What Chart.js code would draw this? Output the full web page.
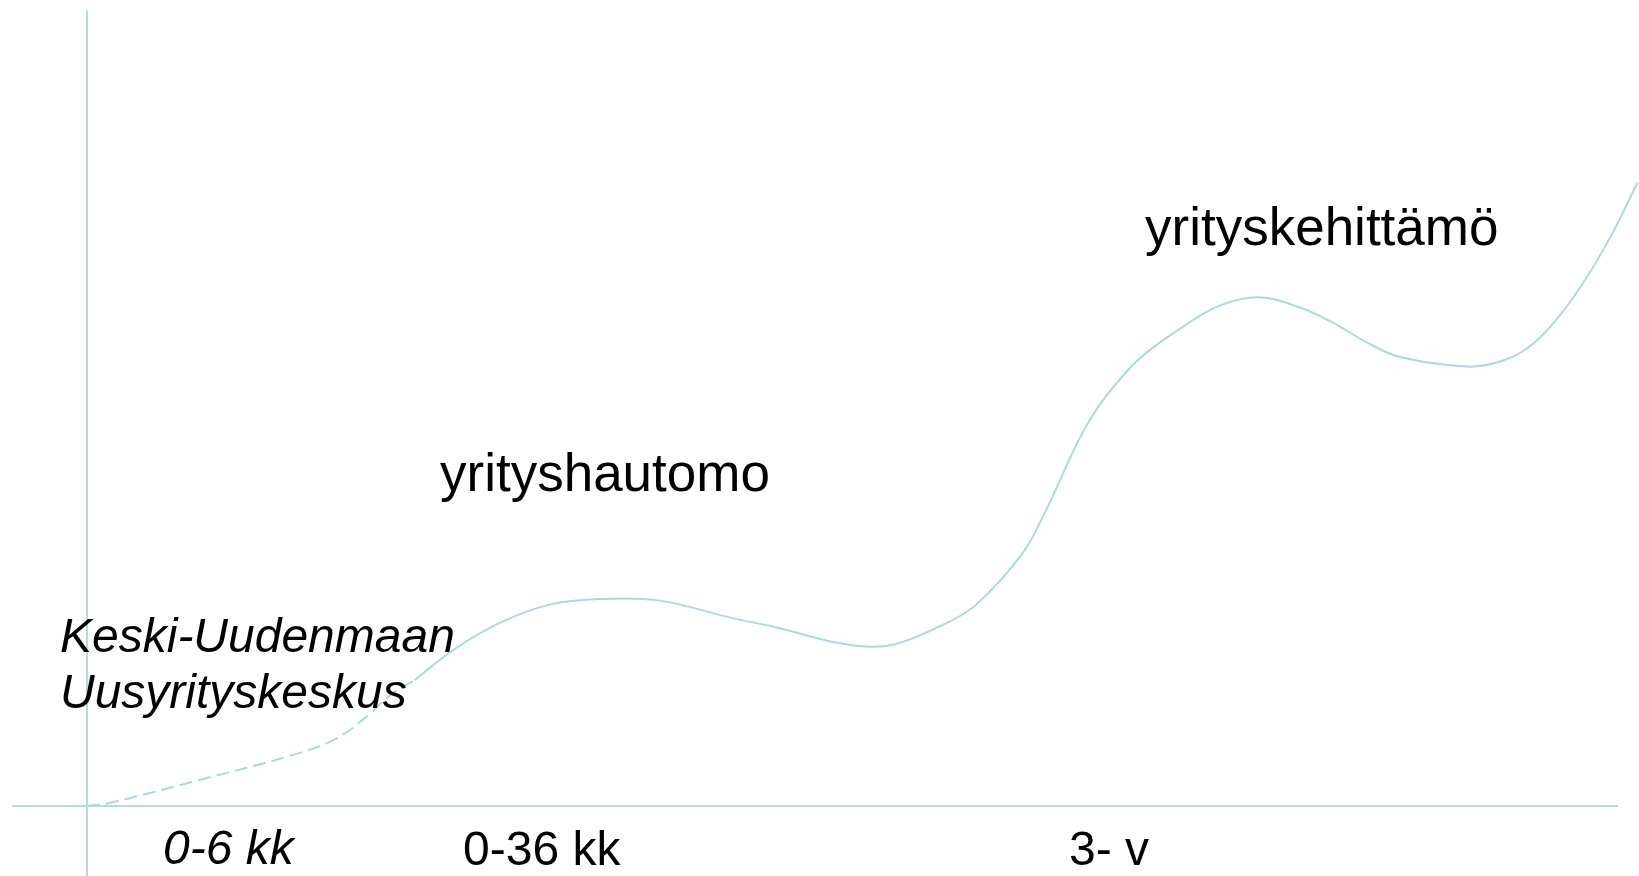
<!DOCTYPE html>
<html>
<head>
<meta charset="utf-8">
<script src="https://cdn.jsdelivr.net/npm/chart.js@4/dist/chart.umd.min.js"></script>
<style>
  html, body { margin: 0; padding: 0; background: #ffffff; }
  #wrap { width: 1639px; height: 876px; position: relative; }
</style>
</head>
<body>
<div id="wrap"><canvas id="c"></canvas></div>
<script>
// ---- Data (x: time-ish axis 0..100, y: growth 0..100) ----
const earlyX = [0, 1.5, 7.3, 12.9, 15.9, 18.0, 19.7, 21.1];
const earlyY = [0, 0.4, 3.3, 6.2, 8.3, 11.2, 14.2, 15.8];

const growthX = [21.1, 23.6, 26.6, 29.8, 33.1, 36.9, 41.6, 44.5, 48.1, 50.6, 52.4, 55.4, 57.3, 60.3, 61.9, 63.8, 64.8, 65.7, 67.7, 70.0, 72.8, 75.5, 78.2, 80.3, 82.5, 84.6, 88.9, 91.0, 92.8, 94.5, 96.4, 98.3, 99.9];
const growthY = [15.8, 19.6, 23.0, 25.3, 26.0, 25.8, 23.6, 22.4, 20.6, 20.0, 20.5, 23.0, 25.3, 31.8, 37.6, 45.6, 49.1, 51.6, 56.0, 59.4, 62.7, 63.9, 62.6, 60.7, 58.2, 56.4, 55.2, 55.8, 57.5, 60.7, 65.7, 72.0, 78.3];

const phaseLabels = ["0-6 kk", "0-36 kk", "3- v"];
const stageLabels = [["Keski-Uudenmaan", "Uusyrityskeskus"], ["yrityshautomo"], ["yrityskehittämö"]];

// ---- Layout / style (not data) ----
const FONT = '"Liberation Sans", Arial, "DejaVu Sans", sans-serif';
const AXIS_COLOR = '#b4dcdf';
const LINE_COLOR = '#acd9dd';
const textItems = [
  { lines: stageLabels[0], x: 60, y: 652, lh: 56, size: 48, italic: true },
  { lines: stageLabels[1], x: 440, y: 491, lh: 56, size: 53, italic: false },
  { lines: stageLabels[2], x: 1145, y: 245, lh: 56, size: 53, italic: false },
  { lines: [phaseLabels[0]], x: 163, y: 864, lh: 56, size: 48, italic: true },
  { lines: [phaseLabels[1]], x: 463, y: 865, lh: 56, size: 48, italic: false },
  { lines: [phaseLabels[2]], x: 1069, y: 865, lh: 56, size: 48, italic: false }
];

const toPts = (xs, ys) => xs.map((x, i) => ({ x: x, y: ys[i] }));

const axesPlugin = {
  id: 'axesPlugin',
  beforeDatasetsDraw(chart) {
    const { ctx, scales } = chart;
    const x0 = scales.x.getPixelForValue(0);
    const y0 = scales.y.getPixelForValue(0);
    ctx.save();
    ctx.strokeStyle = AXIS_COLOR;
    ctx.lineWidth = 2;
    ctx.beginPath();
    ctx.moveTo(12, y0);
    ctx.lineTo(1618, y0);
    ctx.moveTo(x0, 10);
    ctx.lineTo(x0, chart.height);
    ctx.stroke();
    ctx.restore();
  },
  afterDraw(chart) {
    const ctx = chart.ctx;
    ctx.save();
    ctx.fillStyle = '#000000';
    ctx.textBaseline = 'alphabetic';
    ctx.textAlign = 'left';
    textItems.forEach(t => {
      ctx.font = (t.italic ? 'italic ' : '') + t.size + 'px ' + FONT;
      t.lines.forEach((ln, i) => ctx.fillText(ln, t.x, t.y + i * t.lh));
    });
    ctx.restore();
  }
};

new Chart(document.getElementById('c'), {
  type: 'line',
  data: {
    datasets: [
      {
        label: 'early',
        data: toPts(earlyX, earlyY),
        borderColor: LINE_COLOR,
        borderWidth: 2,
        borderDash: [13, 6],
        pointRadius: 0,
        tension: 0.35,
        fill: false,
        clip: false
      },
      {
        label: 'growth',
        data: toPts(growthX, growthY),
        borderColor: LINE_COLOR,
        borderWidth: 2,
        pointRadius: 0,
        tension: 0.35,
        fill: false,
        clip: false
      }
    ]
  },
  options: {
    responsive: true,
    maintainAspectRatio: false,
    animation: false,
    layout: { padding: { left: 87, right: 0, top: 10, bottom: 70 } },
    plugins: { legend: { display: false }, tooltip: { enabled: false } },
    scales: {
      x: { type: 'linear', min: 0, max: 100, display: false },
      y: { type: 'linear', min: 0, max: 100, display: false }
    }
  },
  plugins: [axesPlugin]
});
</script>
</body>
</html>
